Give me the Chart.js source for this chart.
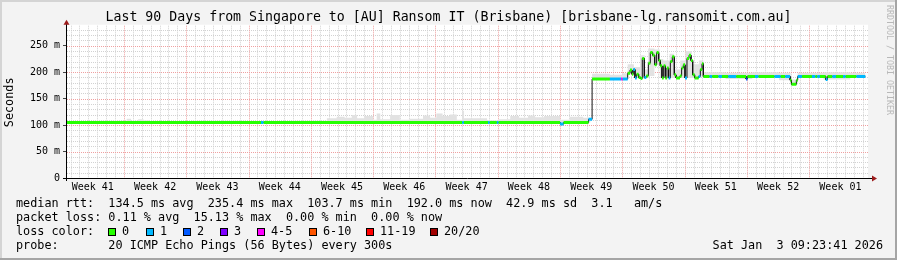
<!DOCTYPE html>
<html>
<head>
<meta charset="utf-8">
<script src="https://cdn.jsdelivr.net/npm/chart.js@4.4.1/dist/chart.umd.min.js"></script>
<style>
  html, body { margin: 0; padding: 0; background: #f3f3f3; }
  #wrap { width: 897px; height: 260px; }
</style>
</head>
<body>
<div id="wrap"><canvas id="chart" width="897" height="260"></canvas></div>
<script>
// x axis is in days since the start of the 90 day window
const titleText = 'Last 90 Days from Singapore to [AU] Ransom IT (Brisbane) [brisbane-lg.ransomit.com.au]';
const weekLabels = ['Week 41', 'Week 42', 'Week 43', 'Week 44', 'Week 45', 'Week 46', 'Week 47',
                    'Week 48', 'Week 49', 'Week 50', 'Week 51', 'Week 52', 'Week 01'];
const weekLabelDays = [2.9, 9.9, 16.9, 23.9, 30.9, 37.9, 44.9, 51.9, 58.9, 65.9, 72.9, 79.9, 86.9];
const weekStartDays = [6.4, 13.4, 20.4, 27.4, 34.4, 41.4, 48.4, 55.4, 62.4, 69.4, 76.4, 83.4];
const yTickValues = [0, 50, 100, 150, 200, 250];
const yTickLabels = ['0', '50 m', '100 m', '150 m', '200 m', '250 m'];

const lossColors = ['#26ff00', '#00b8ff', '#0059ff', '#7e00ff', '#ff00ff', '#ff5500', '#ff0000', '#a10000'];
const lossLabels = ['0', '1', '2', '3', '4-5', '6-10', '11-19', '20/20'];

// median rtt (ms), step values: each holds from its start day to the next one
const endDay = 89.7;
const medianT = [0, 21.8, 22.1, 44.4, 44.6, 47.3, 47.5, 48.3, 48.5, 55.4, 55.8, 58.6,
  59.0, 61.0, 62.25, 62.43, 63.0, 63.26, 63.48, 63.63, 63.82, 64.0, 64.23, 64.46, 64.64, 64.87,
  65.09, 65.32, 65.54, 65.8, 66.03, 66.25, 66.48, 66.66, 66.85, 67.04, 67.23, 67.41, 67.6, 67.79,
  68.01, 68.24, 68.43, 68.65, 68.87, 69.06, 69.25, 69.44, 69.66, 69.89, 70.11, 70.3, 70.52, 70.75,
  70.97, 71.16, 71.35, 71.5, 72.2, 72.5, 73.2, 73.6, 74.3, 75.2, 76.3, 76.45, 77.3, 77.7, 79.5,
  80.2, 80.7, 81.25, 81.4, 81.95, 82.1, 82.6, 83.7, 84.1, 84.3, 84.6, 85.25, 85.45, 86.0, 86.4,
  87.2, 87.5, 88.7];
const medianV = [105, 105, 105, 105, 105, 105, 105, 105, 105, 102, 105, 111,
  187, 187, 187, 187, 198, 204, 196, 205, 189, 196, 190, 188, 226, 190,
  193, 217, 237, 232, 214, 237, 222, 212, 189, 212, 189, 208, 189, 220,
  229, 195, 189, 189, 193, 208, 214, 189, 226, 232, 222, 195, 189, 189,
  192, 205, 216, 192, 192, 192, 192, 192, 192, 192, 187, 192, 192, 192, 192,
  192, 192, 185, 177, 185, 192, 192, 192, 192, 192, 192, 186, 192, 192, 192,
  192, 192, 192];
const medianLoss = [0, 1, 0, 1, 0, 1, 0, 1, 0, 1, 0, 1,
  0, 1, 4, 1, 0, 0, 0, 1, 1, 0, 0, 0, 0, 1,
  0, 0, 0, 0, 0, 0, 0, 0, 0, 0, 0, 0, 1, 0,
  0, 0, 0, 0, 0, 0, 0, 1, 0, 0, 0, 0, 0, 0,
  1, 0, 0, 0, 1, 0, 1, 0, 1, 0, 2, 0, 1, 0, 1,
  0, 1, 0, 0, 0, 1, 0, 1, 0, 1, 0, 1, 0, 1, 0,
  1, 0, 1];

// smoke (spread of the pings), top edge in ms, step values
const smokeT = [0, 3.0, 6.7, 7.2, 8.0, 8.6, 9.3, 14, 20, 25, 29.2, 30.3, 31.2, 32.0, 32.6, 33.4,
  34.4, 34.8, 35.2, 36.3, 37.4, 38.5, 40.0, 40.8, 41.5, 42.2, 43.0, 43.8, 44.4, 44.6, 47.2, 48.5,
  49.8, 50.8, 51.8, 52.6, 53.6, 55.4, 56.5, 58.0, 58.8,
  59.0, 61.0, 62.4, 63.0, 63.7, 64.4, 64.9, 65.3, 66.0, 66.6, 67.0, 67.7, 68.2, 68.9, 69.5, 70.2,
  71.0, 71.5, 74, 77, 80, 81.3, 82.1, 85, 88];
const smokeTop = [107, 108, 112, 108, 111, 109, 107, 108, 107, 108, 113, 116, 114, 119, 113, 117,
  110, 122, 111, 119, 110, 112, 118, 114, 122, 117, 120, 110, 127, 113, 109, 111,
  117, 114, 118, 115, 117, 110, 116, 114, 112,
  197, 195, 198, 215, 210, 232, 205, 245, 243, 225, 222, 235, 205, 222, 240, 215,
  222, 200, 199, 200, 199, 186, 199, 200, 199];

const gridMinorColor = '#d2d2d2';
const gridMajorColor = '#efa0a0';
const arrowColor = '#9c1c1c';
const monoFont = 'DejaVu Sans Mono';

const legendLines = [
  'median rtt:  134.5 ms avg  235.4 ms max  103.7 ms min  192.0 ms now  42.9 ms sd  3.1   am/s',
  'packet loss: 0.11 % avg  15.13 % max  0.00 % min  0.00 % now',
  'loss color:',
  'probe:       20 ICMP Echo Pings (56 Bytes) every 300s'
];
const lossBoxX = [108, 146, 183, 220, 257, 309, 366, 430];
const dateText = 'Sat Jan  3 09:23:41 2026';
const watermark = 'RRDTOOL / TOBI OETIKER';

function stepPoints(ts, vs, end) {
  const pts = [];
  for (let i = 0; i < ts.length; i++) {
    const next = i + 1 < ts.length ? ts[i + 1] : end;
    pts.push({ x: ts[i], y: vs[i] }, { x: next, y: vs[i] });
  }
  return pts;
}

// lowest median inside a time span, used as the bottom of the smoke
function medianMin(a, b) {
  let m = Infinity;
  for (let i = 0; i < medianT.length; i++) {
    const s = medianT[i];
    const e = i + 1 < medianT.length ? medianT[i + 1] : endDay;
    if (e > a && s < b) m = Math.min(m, medianV[i]);
  }
  return m === Infinity ? medianV[medianV.length - 1] : m;
}

const smokeBase = smokeT.map((t, i) => {
  const next = i + 1 < smokeT.length ? smokeT[i + 1] : endDay;
  return medianMin(t, next);
});

const medianPts = stepPoints(medianT, medianV, endDay);

Chart.defaults.font.family = monoFont;
Chart.defaults.color = '#000';

function dottedH(ctx, a, py) {
  const yy = Math.round(py) + 0.5;
  ctx.beginPath(); ctx.moveTo(a.left, yy); ctx.lineTo(a.right, yy); ctx.stroke();
}
function dottedV(ctx, a, px) {
  const xx = Math.round(px) + 0.5;
  ctx.beginPath(); ctx.moveTo(xx, a.top - 1); ctx.lineTo(xx, a.bottom); ctx.stroke();
}

const rrdPlugin = {
  id: 'rrdLook',
  beforeDatasetsDraw(chart) {
    const { ctx, chartArea: a, scales: { x, y } } = chart;
    ctx.save();
    ctx.fillStyle = '#ffffff';
    ctx.fillRect(a.left, a.top - 2, a.right - a.left, a.bottom - a.top + 2);
    ctx.lineWidth = 1;
    ctx.setLineDash([1, 1]);

    ctx.strokeStyle = gridMinorColor;
    for (let v = 10; v <= y.max; v += 10) {
      if (v % 50 === 0) continue;
      dottedH(ctx, a, y.getPixelForValue(v));
    }
    for (let n = 0; n < 90; n++) {
      const d = 0.4 + n;
      if (weekStartDays.some(w => Math.abs(w - d) < 1e-6)) continue;
      dottedV(ctx, a, x.getPixelForValue(d));
    }

    ctx.strokeStyle = gridMajorColor;
    yTickValues.forEach(v => { if (v > 0) dottedH(ctx, a, y.getPixelForValue(v)); });
    weekStartDays.forEach(d => dottedV(ctx, a, x.getPixelForValue(d)));
    ctx.restore();
  },
  afterDraw(chart) {
    const { ctx, chartArea: a } = chart;
    const W = chart.width, H = chart.height;
    ctx.save();

    // axes with arrow heads
    const ax = Math.round(a.left) - 0.5;
    const ay = Math.round(a.bottom) + 0.5;
    ctx.strokeStyle = '#000';
    ctx.lineWidth = 1;
    ctx.beginPath();
    ctx.moveTo(a.left - 4, ay); ctx.lineTo(a.right + 4, ay);
    ctx.moveTo(ax, a.bottom + 3); ctx.lineTo(ax, a.top - 3);
    ctx.stroke();
    ctx.fillStyle = arrowColor;
    ctx.beginPath();
    ctx.moveTo(ax, a.top - 7); ctx.lineTo(ax - 3, a.top - 2); ctx.lineTo(ax + 3, a.top - 2);
    ctx.closePath(); ctx.fill();
    ctx.beginPath();
    ctx.moveTo(a.right + 9, ay); ctx.lineTo(a.right + 4, ay - 3); ctx.lineTo(a.right + 4, ay + 3);
    ctx.closePath(); ctx.fill();

    // legend block
    ctx.fillStyle = '#000';
    ctx.font = '11.8px "' + monoFont + '"';
    ctx.textBaseline = 'middle';
    ctx.textAlign = 'left';
    legendLines.forEach((s, i) => ctx.fillText(s, 16, 204 + i * 14));
    lossBoxX.forEach((bx, i) => {
      ctx.fillStyle = lossColors[i];
      ctx.fillRect(bx, 228, 8, 8);
      ctx.strokeStyle = '#000';
      ctx.strokeRect(bx + 0.5, 228.5, 7, 7);
      ctx.fillStyle = '#000';
      ctx.fillText(lossLabels[i], bx + 14, 232);
    });
    ctx.textAlign = 'right';
    ctx.fillText(dateText, 883, 246);

    // watermark on the right edge
    ctx.save();
    ctx.translate(889, 5);
    ctx.rotate(Math.PI / 2);
    ctx.textAlign = 'left';
    ctx.fillStyle = '#b8b8b8';
    ctx.font = '8.3px "' + monoFont + '"';
    ctx.fillText(watermark, 0, 0);
    ctx.restore();

    // 3d frame
    ctx.fillStyle = '#d4d4d4';
    ctx.fillRect(0, 0, W, 2);
    ctx.fillRect(0, 0, 2, H);
    ctx.fillStyle = '#a5a5a5';
    ctx.fillRect(0, H - 2, W, 2);
    ctx.fillRect(W - 2, 0, 2, H);
    ctx.restore();
  }
};

new Chart(document.getElementById('chart'), {
  type: 'line',
  data: {
    datasets: [
      {
        label: 'smoke base',
        data: stepPoints(smokeT, smokeBase, endDay),
        borderWidth: 0,
        pointRadius: 0,
        fill: false,
        order: 4
      },
      {
        label: 'smoke',
        data: stepPoints(smokeT, smokeTop, endDay),
        borderWidth: 0,
        pointRadius: 0,
        backgroundColor: '#e2e2e2',
        fill: '-1',
        order: 3
      },
      {
        label: 'median',
        data: medianPts,
        borderColor: '#111',
        borderWidth: 1,
        pointRadius: 0,
        fill: false,
        order: 2
      },
      {
        label: 'median by loss',
        data: medianPts,
        borderWidth: 3,
        pointRadius: 0,
        fill: false,
        borderCapStyle: 'butt',
        segment: {
          borderColor: c => c.p0.parsed.x === c.p1.parsed.x
            ? 'rgba(0,0,0,0)'
            : lossColors[medianLoss[Math.floor(c.p0DataIndex / 2)]]
        },
        order: 1
      }
    ]
  },
  options: {
    responsive: false,
    animation: false,
    events: [],
    layout: { padding: { left: 0, right: 0, top: 0, bottom: 60 } },
    plugins: {
      legend: { display: false },
      tooltip: { enabled: false },
      title: {
        display: true,
        text: titleText,
        color: '#000',
        font: { family: monoFont, size: 13.25, weight: 'normal', lineHeight: 1.2 },
        padding: { top: 10, bottom: 0.8 }
      }
    },
    scales: {
      x: {
        type: 'linear',
        min: 0,
        max: 90,
        afterBuildTicks: s => { s.ticks = weekLabelDays.map(v => ({ value: v })); },
        afterFit: s => { s.height = 22; },
        grid: { display: false, drawTicks: false },
        border: { display: false },
        ticks: {
          autoSkip: false,
          maxRotation: 0,
          padding: 3,
          color: '#000',
          font: { size: 10 },
          callback: (v, i) => weekLabels[i]
        }
      },
      y: {
        min: 0,
        max: 286,
        afterBuildTicks: s => { s.ticks = yTickValues.map(v => ({ value: v })); },
        afterFit: s => { s.width = 67; },
        grid: { drawOnChartArea: false, drawTicks: true, tickLength: 4, color: '#444' },
        border: { display: false },
        ticks: {
          padding: 3,
          color: '#000',
          font: { size: 10 },
          callback: (v, i) => yTickLabels[i]
        },
        title: {
          display: true,
          text: 'Seconds',
          color: '#000',
          font: { size: 11.8 },
          padding: { top: 3, bottom: 0 }
        }
      },
      // empty strip on the right that holds the rrdtool watermark
      yRight: {
        position: 'right',
        min: 0,
        max: 286,
        afterFit: s => { s.width = 29; },
        grid: { display: false, drawTicks: false },
        border: { display: false },
        ticks: { display: false }
      }
    }
  },
  plugins: [rrdPlugin]
});
</script>
</body>
</html>
